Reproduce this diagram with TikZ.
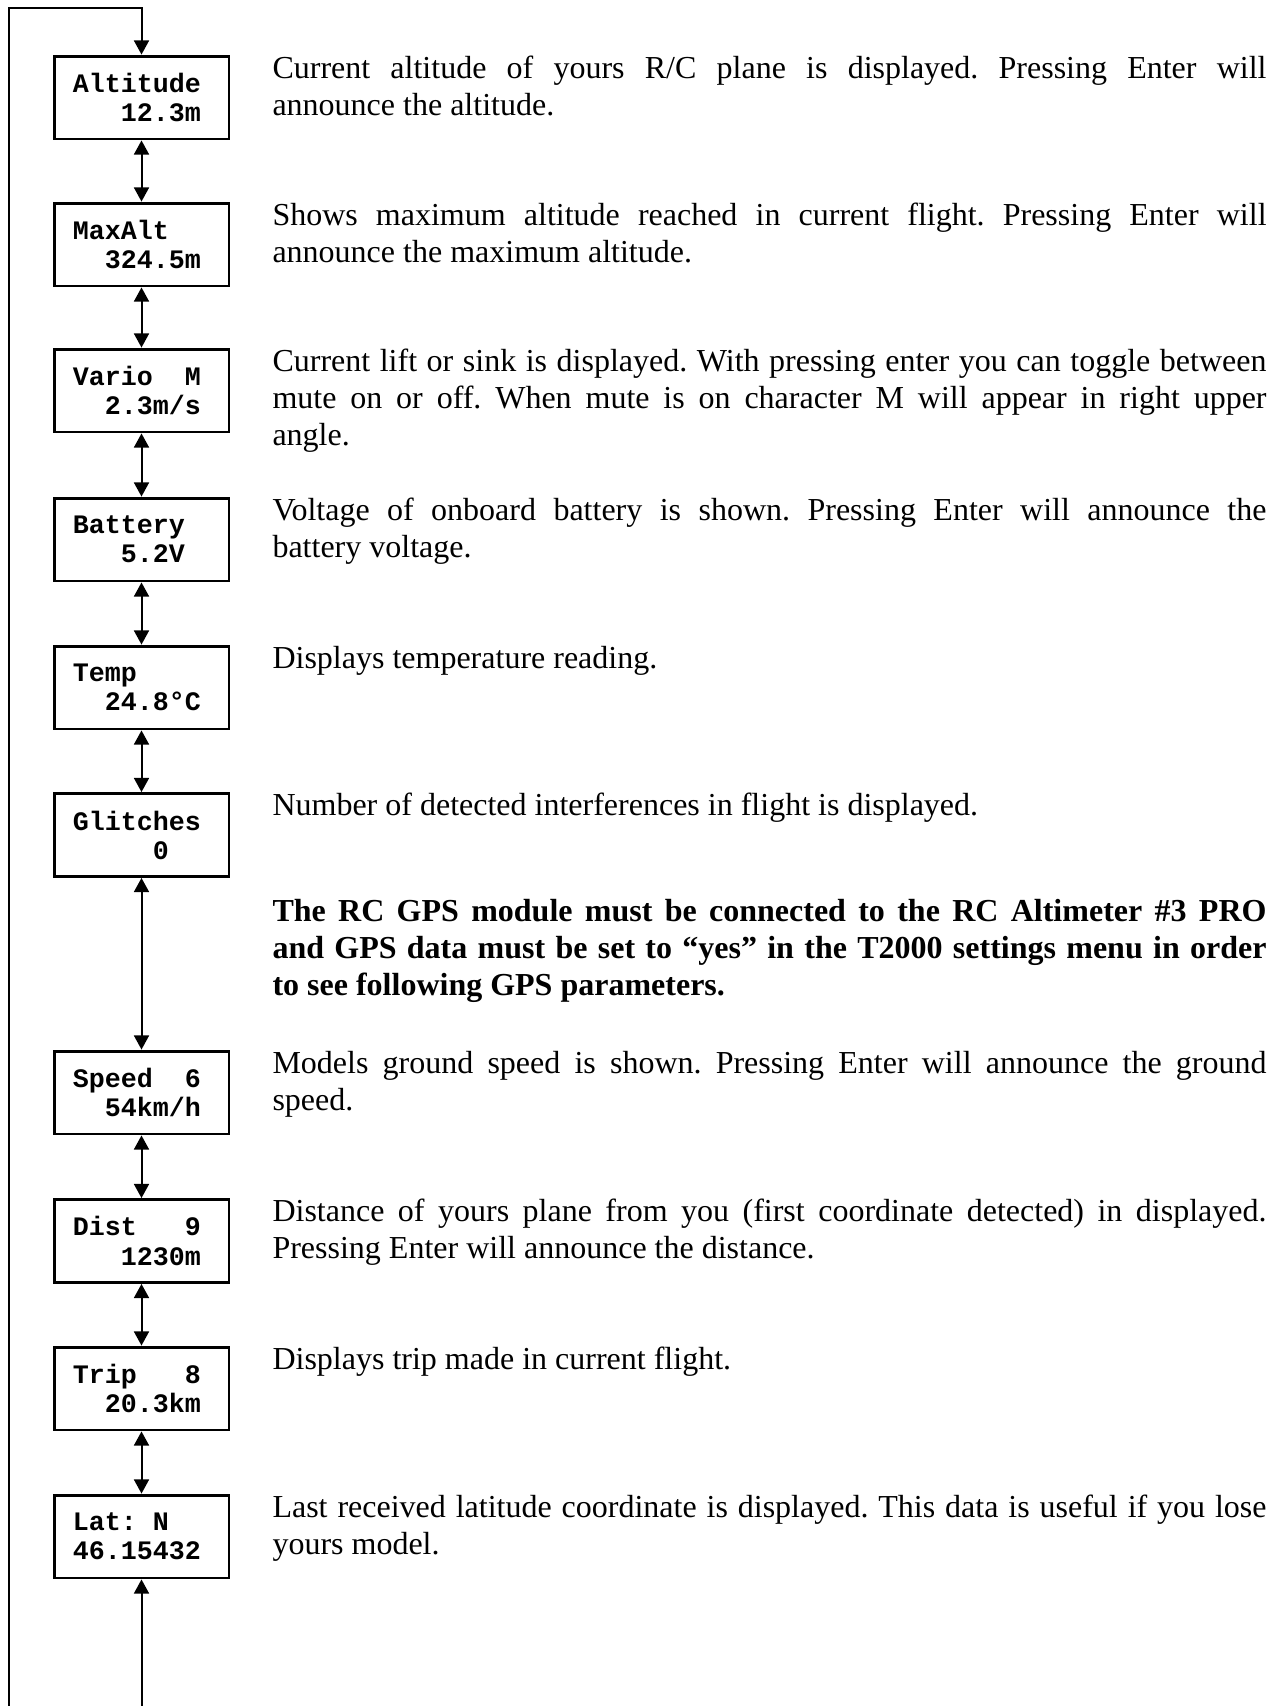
\documentclass[tikz,border=0pt]{standalone}
\usepackage{fontspec}
\setmainfont{Liberation Serif}
\setmonofont{Liberation Mono}
\usepackage{tikz}
\usetikzlibrary{arrows.meta,positioning}

% blank LCD cells (one cell = 6pt at 10pt mono)
\newcommand\pad[1]{\hspace*{#1\dimexpr6pt\relax}}
% word spaces may stretch but not shrink
\newcommand\noshrink{\spaceskip=\fontdimen2\font plus \fontdimen3\font\relax\frenchspacing}
\hyphenpenalty=10000

\begin{document}
\begin{tikzpicture}[
    x=0.375pt, y=-0.375pt,
    lcd/.style={draw, line width=1.1pt, minimum width=65.6pt, minimum height=31.1pt, text width=51.4pt, align=left, inner sep=0pt, font=\ttfamily\bfseries\fontsize{10}{10.9}\selectfont},
    desc/.style={anchor=base west, text width=372.75pt, align=justify, inner sep=0pt, font=\fontsize{12}{13.9}\selectfont\noshrink},
    note/.style={desc, font=\fontsize{12}{13.9}\selectfont\bfseries\noshrink},
    link/.style={line width=0.75pt, >={Triangle[width=5.6pt,length=5.3pt]}}
]
    \useasboundingbox (0,0) rectangle (1277,1706);

    % Display screens (menu order)
    \node[lcd] (alt) at (141.5,97.5) {Altitude\\\pad{3}12.3m};
    \node[lcd] (maxalt) at (141.5,244.5) {MaxAlt\\\pad{2}324.5m};
    \node[lcd] (vario) at (141.5,390.5) {Vario\pad{2}M\\\pad{2}2.3m/s};
    \node[lcd] (batt) at (141.5,539.5) {Battery\\\pad{3}5.2V};
    \node[lcd] (temp) at (141.5,687.5) {Temp\\\pad{2}24.8°C};
    \node[lcd] (glitch) at (141.5,835) {Glitches\\\pad{5}0};
    \node[lcd] (speed) at (141.5,1092.5) {Speed\pad{2}6\\\pad{2}54km/h};
    \node[lcd] (dist) at (141.5,1241) {Dist\pad{3}9\\\pad{3}1230m};
    \node[lcd] (trip) at (141.5,1388.5) {Trip\pad{3}8\\\pad{2}20.3km};
    \node[lcd] (lat) at (141.5,1536.5) {Lat:\pad{1}N\\46.15432};

    % Descriptions
    \node[desc] (altdesc) at (272,78) {Current altitude of yours R/C plane is displayed. Pressing Enter will\linebreak announce the altitude.};
    \node[desc] (maxaltdesc) at (272,225) {Shows maximum altitude reached in current flight. Pressing Enter will\linebreak announce the maximum altitude.};
    \node[desc] (variodesc) at (272,371) {Current lift or sink is displayed. With pressing enter you can toggle between\linebreak mute on or off. When mute is on character M will appear in right upper\linebreak angle.};
    \node[desc] (battdesc) at (272,520) {Voltage of onboard battery is shown. Pressing Enter will announce the\linebreak battery voltage.};
    \node[desc] (tempdesc) at (272,668) {Displays temperature reading.};
    \node[desc] (glitchdesc) at (272,815.5) {Number of detected interferences in flight is displayed.};
    \node[note] (gpsnote) at (272,921) {The RC GPS module must be connected to the RC Altimeter \#3 PRO\linebreak and GPS data must be set to “yes” in the T2000 settings menu in order\linebreak to see following GPS parameters.};
    \node[desc] (speeddesc) at (272,1073) {Models ground speed is shown. Pressing Enter will announce the ground\linebreak speed.};
    \node[desc] (distdesc) at (272,1221.5) {Distance of yours plane from you (first coordinate detected) in displayed.\linebreak Pressing Enter will announce the distance.};
    \node[desc] (tripdesc) at (272,1369) {Displays trip made in current flight.};
    \node[desc] (latdesc) at (272,1517) {Last received latitude coordinate is displayed. This data is useful if you lose\linebreak yours model.};

    % Links between screens
    \draw[link, <->] (alt) -- (maxalt);
    \draw[link, <->] (maxalt) -- (vario);
    \draw[link, <->] (vario) -- (batt);
    \draw[link, <->] (batt) -- (temp);
    \draw[link, <->] (temp) -- (glitch);
    \draw[link, <->] (glitch) -- (speed);
    \draw[link, <->] (speed) -- (dist);
    \draw[link, <->] (dist) -- (trip);
    \draw[link, <->] (trip) -- (lat);

    % Wrap-around loop (continues off the page)
    \coordinate (loopbot) at (9,1706);
    \coordinate (looptop) at (9,8);
    \coordinate (latbot) at (141.5,1706);
    \draw[link, ->] (loopbot) -- (looptop) -| (alt.north);
    \draw[link, ->] (latbot) -- (lat.south);
\end{tikzpicture}
\end{document}
